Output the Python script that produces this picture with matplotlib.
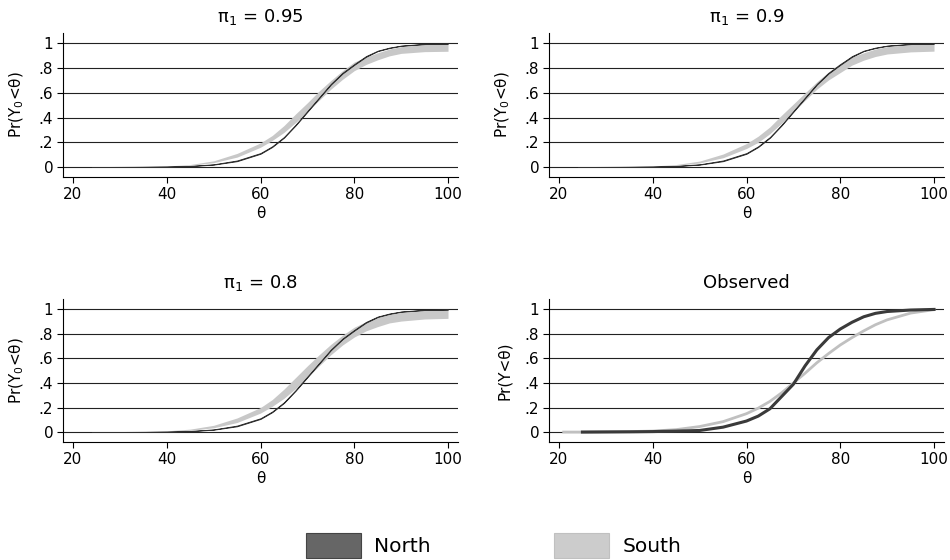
import numpy as np
import matplotlib
matplotlib.use("Agg")
import matplotlib.pyplot as plt
from matplotlib.patches import Rectangle

plt.rcParams['font.family'] = ['DejaVu Sans']
plt.rcParams['mathtext.fontset'] = 'dejavusans'

# grid of theta values
theta = [24, 30, 35, 40, 45, 50, 55, 60, 62.5, 65, 67.5, 70, 72.5, 75, 77.5, 80, 82.5, 85, 87.5, 90, 95, 100]

# North band (same in the three pi panels)
north_lo = [0, 0, 0.001, 0.002, 0.007, 0.019, 0.047, 0.107, 0.162, 0.237, 0.337, 0.447, 0.557, 0.667, 0.757, 0.827, 0.892, 0.938, 0.963, 0.981, 0.995, 0.999]
north_hi = [0, 0.001, 0.002, 0.004, 0.009, 0.022, 0.053, 0.113, 0.168, 0.243, 0.343, 0.453, 0.563, 0.673, 0.763, 0.833, 0.898, 0.942, 0.967, 0.983, 0.997, 1.0]

# South bands per pi
south_lo_95 = [0, 0, 0.002, 0.005, 0.014, 0.035, 0.08, 0.16, 0.215, 0.28, 0.36, 0.45, 0.54, 0.63, 0.71, 0.78, 0.83, 0.868, 0.9, 0.92, 0.934, 0.937]
south_hi_95 = [0, 0.001, 0.003, 0.008, 0.02, 0.05, 0.11, 0.195, 0.255, 0.335, 0.43, 0.52, 0.615, 0.70, 0.78, 0.85, 0.89, 0.925, 0.955, 0.975, 0.993, 0.998]
south_lo_90 = [0, 0, 0.002, 0.005, 0.013, 0.033, 0.075, 0.15, 0.20, 0.27, 0.355, 0.445, 0.54, 0.63, 0.705, 0.765, 0.825, 0.865, 0.895, 0.915, 0.932, 0.938]
south_hi_90 = [0, 0.001, 0.003, 0.008, 0.02, 0.048, 0.105, 0.19, 0.25, 0.325, 0.42, 0.51, 0.60, 0.69, 0.77, 0.84, 0.89, 0.925, 0.955, 0.975, 0.993, 0.998]
south_lo_80 = [0, 0, 0.002, 0.005, 0.014, 0.035, 0.078, 0.155, 0.21, 0.275, 0.355, 0.445, 0.54, 0.63, 0.71, 0.775, 0.825, 0.86, 0.89, 0.905, 0.922, 0.927]
south_hi_80 = [0, 0.001, 0.004, 0.01, 0.024, 0.055, 0.115, 0.20, 0.265, 0.35, 0.445, 0.54, 0.63, 0.715, 0.79, 0.855, 0.9, 0.935, 0.96, 0.978, 0.993, 0.998]

# observed curves
theta_north_obs = [25, 30, 35, 40, 45, 50, 55, 60, 62.5, 65, 67.5, 70, 72.5, 75, 77.5, 80, 82.5, 85, 87.5, 90, 95, 100]
north_obs = [0, 0.001, 0.002, 0.004, 0.008, 0.013, 0.04, 0.09, 0.13, 0.19, 0.29, 0.39, 0.54, 0.67, 0.77, 0.84, 0.895, 0.94, 0.968, 0.983, 0.995, 1.0]
theta_south_obs = [21, 25, 30, 35, 40, 45, 50, 55, 60, 62.5, 65, 67.5, 70, 72.5, 75, 77.5, 80, 82.5, 85, 87.5, 90, 95, 100]
south_obs = [0, 0, 0.002, 0.004, 0.008, 0.02, 0.045, 0.085, 0.15, 0.195, 0.25, 0.32, 0.40, 0.48, 0.565, 0.64, 0.71, 0.77, 0.825, 0.875, 0.915, 0.97, 0.998]

titles = ['π$_1$ = 0.95', 'π$_1$ = 0.9', 'π$_1$ = 0.8', 'Observed']
yticks = [0, 0.2, 0.4, 0.6, 0.8, 1]
ytick_labels = ['0', '.2', '.4', '.6', '.8', '1']
xticks = [20, 40, 60, 80, 100]

DARK = '#606060'
LIGHT = '#c8c8c8'

fig = plt.figure(figsize=(9.5, 5.6), dpi=100)
W, H = 950, 560
# axes boxes in pixels: left, top, right, bottom
boxes = [(63, 33, 458, 177), (549, 33, 944, 177), (63, 299, 458, 442), (549, 299, 944, 442)]
axes = []
for (l, t, r, b) in boxes:
    axes.append(fig.add_axes([l / W, 1 - b / H, (r - l) / W, (b - t) / H]))

south_bands = [(south_lo_95, south_hi_95), (south_lo_90, south_hi_90), (south_lo_80, south_hi_80)]

for i, ax in enumerate(axes):
    ax.set_xlim(17.87, 102.13)
    ax.set_ylim(-0.081, 1.085)
    ax.set_axisbelow(True)
    ax.grid(axis='y', color='#222222', lw=0.8)
    ax.grid(axis='x', visible=False)
    for s in ['top', 'right']:
        ax.spines[s].set_visible(False)
    for s in ['left', 'bottom']:
        ax.spines[s].set_color('black')
        ax.spines[s].set_linewidth(0.8)
    ax.set_xticks(xticks)
    ax.set_yticks(yticks)
    ax.set_yticklabels(ytick_labels)
    ax.tick_params(direction='out', length=4, width=0.8, labelsize=11, pad=3)
    ax.set_xlabel('θ', fontsize=11, labelpad=3)
    ax.set_title(titles[i], fontsize=13, pad=8)
    if i < 3:
        lo, hi = south_bands[i]
        ax.fill_between(theta, lo, hi, color=LIGHT, lw=0, zorder=2)
        ax.fill_between(theta, north_lo, north_hi, facecolor=DARK, edgecolor='#303030', lw=0.6, zorder=3)
        ax.set_ylabel('Pr(Y$_0$<θ)', fontsize=11, labelpad=9)
    else:
        ax.plot(theta_south_obs, south_obs, color='#c0c0c0', lw=2.0, zorder=2)
        ax.plot(theta_north_obs, north_obs, color='#3a3a3a', lw=2.2, zorder=3)
        ax.set_ylabel('Pr(Y<θ)', fontsize=11, labelpad=9)

# legend drawn at the bottom
fig.patches.append(Rectangle((306 / W, 1 - 558 / H), 55 / W, 25 / H, transform=fig.transFigure,
                             facecolor='#666666', edgecolor='#444444', lw=0.8))
fig.patches.append(Rectangle((554 / W, 1 - 558 / H), 55 / W, 25 / H, transform=fig.transFigure,
                             facecolor='#cccccc', edgecolor='#c0c0c0', lw=0.8))
fig.text(374 / W, 1 - 546 / H, 'North', fontsize=14.5, va='center', ha='left')
fig.text(623 / W, 1 - 546 / H, 'South', fontsize=14.5, va='center', ha='left')

fig.savefig('out.png', dpi=100)
